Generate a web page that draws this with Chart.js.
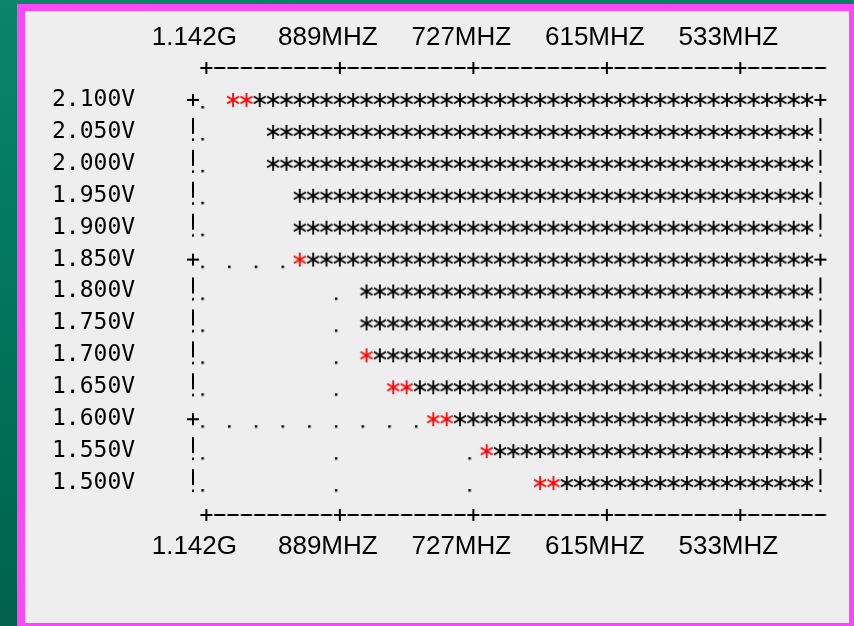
<!DOCTYPE html>
<html>
<head>
<meta charset="utf-8">
<script src="https://cdn.jsdelivr.net/npm/chart.js@4.4.0/dist/chart.umd.min.js"></script>
<style>
  html, body { margin: 0; padding: 0; }
  body { width: 854px; height: 626px; overflow: hidden; position: relative;
         background: linear-gradient(172deg, #0a856a 0%, #00745a 45%, #005a46 100%); }
  #frame { position: absolute; left: 17px; top: 4px; right: 0; bottom: 0; background: #fb47f6; }
  #paper { position: absolute; left: 25px; top: 11px; width: 824px; height: 612px; background: #eeeeee; }
  canvas { position: absolute; left: 0; top: 0; }
</style>
</head>
<body>
<div id="frame"></div>
<div id="paper"></div>
<canvas id="shmoo" width="854" height="626"></canvas>
<script>
// shmoo data: one row per supply voltage, pass region runs from firstPass to lastCol
var voltages  = [2.100, 2.050, 2.000, 1.950, 1.900, 1.850, 1.800, 1.750, 1.700, 1.650, 1.600, 1.550, 1.500];
var firstPass = [3, 6, 6, 8, 8, 8, 13, 13, 13, 15, 18, 22, 26];
var redCount  = [2, 0, 0, 0, 0, 1, 0, 0, 1, 2, 2, 1, 2];
var freqLabels = ['1.142G', '889MHZ', '727MHZ', '615MHZ', '533MHZ'];
var freqCols   = [1, 11, 21, 31, 41];
var lastCol = 46;
var majorEvery = 5;

var step = voltages[0] - voltages[1];
var yTop = voltages[0] + step;
var yBottom = voltages[voltages.length - 1] - step;

// glyphs used as point styles
function glyph(w, h, draw) {
    var c = document.createElement('canvas');
    c.width = w; c.height = h;
    var g = c.getContext('2d');
    g.translate(w / 2, h / 2);
    draw(g);
    return c;
}
function star(color) {
    return glyph(16, 20, function (g) {
        g.strokeStyle = color;
        g.lineWidth = 1.8;
        g.beginPath();
        g.moveTo(0, -7); g.lineTo(0, 7);
        g.moveTo(-6, -3.6); g.lineTo(6, 3.6);
        g.moveTo(-6, 3.6); g.lineTo(6, -3.6);
        g.stroke();
    });
}
var starBlack = star('#000');
var starRed = star('#ff0000');
var dotG = glyph(16, 20, function (g) { g.fillStyle = '#000'; g.fillRect(-5, 6, 2.5, 2.5); });
var bangG = glyph(16, 32, function (g) {
    g.fillStyle = '#000';
    g.fillRect(-1, -14, 2, 16);
    g.fillRect(-1, 6.5, 2, 2.5);
});
var plusG = glyph(16, 20, function (g) {
    g.fillStyle = '#000';
    g.fillRect(-6, -1, 12, 2);
    g.fillRect(-1, -6, 2, 12);
});
var dashG = glyph(16, 20, function (g) { g.fillStyle = '#000'; g.fillRect(-5.5, -1, 11, 2); });

var blackPts = [], redPts = [], dotPts = [], bangPts = [], plusPts = [], dashPts = [];
voltages.forEach(function (v, i) {
    var major = i % majorEvery === 0;
    for (var c = 1; c <= lastCol; c++) {
        if (c >= firstPass[i]) {
            (c < firstPass[i] + redCount[i] ? redPts : blackPts).push({x: c, y: v});
        } else if (major ? c % 2 === 1 : c % 10 === 1) {
            dotPts.push({x: c, y: v});
        }
    }
    var edge = major ? plusPts : bangPts;
    edge.push({x: 0, y: v});
    edge.push({x: lastCol + 1, y: v});
});
[yTop, yBottom].forEach(function (y) {
    for (var c = 1; c <= lastCol + 1; c++) {
        (freqCols.indexOf(c) >= 0 ? plusPts : dashPts).push({x: c, y: y});
    }
});

function ds(pts, img) {
    return { data: pts, pointStyle: img, pointRadius: 1, pointHoverRadius: 1, pointBorderWidth: 0, clip: false, showLine: false };
}

function xAxis(pos, h, pad) {
    return {
        type: 'linear', position: pos, min: 0, max: lastCol + 1,
        grid: { display: false, drawTicks: false },
        border: { display: false },
        afterBuildTicks: function (s) { s.ticks = freqCols.map(function (v) { return {value: v}; }); },
        afterFit: function (s) { s.height = h; },
        ticks: {
            autoSkip: false, maxRotation: 0, minRotation: 0, padding: pad, labelOffset: -12,
            color: '#000', font: { family: '"Liberation Sans", Arial, sans-serif', size: 26 },
            callback: function (v, i) { return freqLabels[i]; }
        }
    };
}

new Chart(document.getElementById('shmoo'), {
    type: 'scatter',
    data: {
        datasets: [
            ds(blackPts, starBlack),
            ds(redPts, starRed),
            ds(dotPts, dotG),
            ds(bangPts, bangG),
            ds(plusPts, plusG),
            ds(dashPts, dashG)
        ]
    },
    options: {
        responsive: false,
        animation: false,
        events: [],
        layout: { autoPadding: false, padding: { left: 52, top: 0, right: 33.6, bottom: 0 } },
        plugins: { legend: { display: false }, tooltip: { enabled: false } },
        scales: {
            x: xAxis('bottom', 111, 16),
            x2: xAxis('top', 68, 15),
            y: {
                type: 'linear', min: yBottom, max: yTop,
                grid: { display: false, drawTicks: false },
                border: { display: false },
                afterBuildTicks: function (s) { s.ticks = voltages.map(function (v) { return {value: v}; }); },
                afterFit: function (s) { s.width = 193 - 52; },
                ticks: {
                    autoSkip: false, padding: 0, crossAlign: 'far', color: '#000',
                    font: { family: '"DejaVu Sans Mono", monospace', size: 23 },
                    callback: function (v) { return v.toFixed(3) + 'V'; }
                }
            }
        }
    }
});
</script>
</body>
</html>
